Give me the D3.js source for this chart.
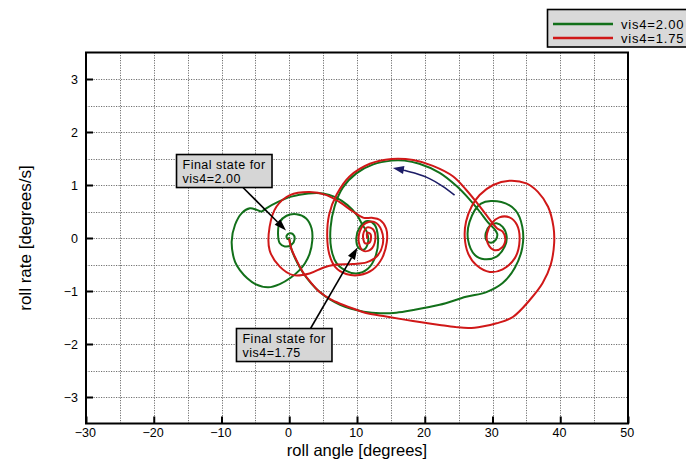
<!DOCTYPE html>
<html>
<head>
<meta charset="utf-8">
<script src="https://cdn.jsdelivr.net/npm/d3@7"></script>
<style>
  body { margin: 0; background: #fff; }
  svg { display: block; font-family: "Liberation Sans", Arial, Helvetica, sans-serif; }
</style>
</head>
<body>
<svg id="chart" width="686" height="459"></svg>
<script>
// Phase portrait: roll angle vs roll rate for two vis4 settings.

const xTicks = [-30, -20, -10, 0, 10, 20, 30, 40, 50];
const yTicks = [-3, -2, -1, 0, 1, 2, 3];
const seriesNames = ['vis4=2.00', 'vis4=1.75'];

// [roll angle, roll rate]
const greenPath = [
  [0.0, 0.0], [0.3, -0.2], [1.0, -0.42], [2.0, -0.65], [3.2, -0.85], [4.5, -1.02],
  [6.0, -1.16], [7.5, -1.26], [9.0, -1.33], [11.0, -1.39], [13.4, -1.42], [15.8, -1.41],
  [18.3, -1.36], [22.2, -1.26], [26.1, -1.11], [29.1, -1.02], [31.5, -0.85], [33.3, -0.56],
  [34.4, -0.18], [34.4, 0.21], [33.4, 0.52], [31.3, 0.68], [28.3, 0.65], [26.6, 0.3],
  [26.4, -0.04], [27.4, -0.32], [28.8, -0.4], [30.6, -0.35], [31.8, -0.16], [32.1, 0.02],
  [31.5, 0.21], [30.6, 0.28], [29.6, 0.23], [29.0, 0.09], [29.1, -0.04], [29.8, -0.09],
  [30.5, -0.03], [30.7, 0.08], [30.2, 0.18], [29.3, 0.3], [28.1, 0.5], [26.6, 0.73],
  [24.7, 0.98], [22.2, 1.23], [19.2, 1.4], [17.0, 1.46], [15.1, 1.46], [12.4, 1.39],
  [9.9, 1.22], [7.9, 0.95], [6.7, 0.6], [6.1, 0.2], [6.2, -0.2], [7.0, -0.48],
  [8.4, -0.62], [9.9, -0.67], [11.6, -0.58], [12.8, -0.32], [13.1, 0.0], [12.6, 0.25],
  [11.5, 0.32], [10.4, 0.2], [9.9, 0.0], [10.2, -0.18], [11.0, -0.22], [11.6, -0.1],
  [11.5, 0.1], [10.8, 0.25], [10.0, 0.43], [8.6, 0.62], [6.8, 0.77], [5.0, 0.84],
  [2.8, 0.84], [0.3, 0.78], [-1.65, 0.68], [-3.4, 0.56], [-4.1, 0.5], [-4.8, 0.53],
  [-5.8, 0.56], [-7.0, 0.47], [-8.0, 0.25], [-8.5, -0.07], [-8.0, -0.45], [-7.2, -0.62],
  [-6.2, -0.76], [-5.0, -0.87], [-3.1, -0.93], [-1.4, -0.87], [0.2, -0.75], [1.4, -0.62],
  [2.3, -0.48], [3.0, -0.3], [3.4, -0.05], [3.3, 0.18], [2.5, 0.37], [1.06, 0.45],
  [-0.4, 0.42], [-1.4, 0.3], [-1.65, 0.06], [-1.4, -0.1], [-0.66, -0.16], [0.3, -0.13],
  [0.8, -0.02], [0.56, 0.07], [0.07, 0.09], [-0.4, 0.04], [-0.26, -0.02], [0.0, 0.0]
];

const redPath = [
  [0.0, -0.03], [0.3, -0.2], [1.0, -0.4], [2.0, -0.64], [3.2, -0.84], [4.5, -1.02],
  [6.0, -1.15], [7.5, -1.24], [9.4, -1.33], [11.5, -1.42], [14.3, -1.48], [17.0, -1.54],
  [19.5, -1.59], [22.2, -1.64], [24.5, -1.68], [26.5, -1.7], [28.5, -1.67], [30.6, -1.61],
  [33.0, -1.49], [35.5, -1.17], [37.4, -0.85], [38.6, -0.5], [39.1, -0.1], [39.0, 0.21],
  [38.2, 0.59], [36.7, 0.87], [35.0, 1.03], [32.5, 1.08], [30.1, 1.0], [28.1, 0.81],
  [26.9, 0.59], [26.1, 0.31], [25.9, 0.02], [26.4, -0.29], [27.6, -0.51], [29.6, -0.64],
  [31.5, -0.59], [33.3, -0.38], [34.0, -0.04], [33.6, 0.25], [32.5, 0.39], [31.0, 0.39],
  [29.9, 0.28], [29.2, 0.09], [29.3, -0.1], [30.3, -0.23], [31.4, -0.18], [31.9, -0.02],
  [31.5, 0.12], [30.7, 0.18], [30.0, 0.28], [29.1, 0.43], [27.6, 0.68], [26.1, 0.91],
  [24.2, 1.16], [21.2, 1.36], [18.3, 1.47], [15.1, 1.49], [11.9, 1.4], [8.9, 1.16],
  [7.0, 0.82], [5.9, 0.45], [5.6, 0.05], [5.9, -0.3], [6.8, -0.55], [8.4, -0.68],
  [10.4, -0.7], [12.3, -0.6], [13.7, -0.38], [14.4, -0.08], [14.3, 0.18], [13.4, 0.34],
  [12.2, 0.38], [11.0, 0.38], [9.4, 0.5], [7.4, 0.68], [5.5, 0.81], [3.0, 0.87],
  [0.1, 0.81], [-1.9, 0.59], [-2.9, 0.21], [-2.9, -0.23], [-1.4, -0.54], [0.56, -0.7],
  [3.0, -0.67], [5.0, -0.56], [6.5, -0.51], [9.4, -0.49], [11.4, -0.46], [12.9, -0.35],
  [13.8, -0.12], [13.6, 0.15], [12.6, 0.3], [11.3, 0.28], [10.4, 0.12], [10.3, -0.1],
  [10.9, -0.24], [12.0, -0.22], [12.7, -0.03], [12.4, 0.16], [11.5, 0.2], [10.9, 0.06],
  [11.2, -0.1], [11.9, -0.08], [12.0, 0.07], [11.5, 0.1], [11.5, 0.0]
];

// direction-of-travel arrow on the upper arc
const directionArrow = [[24.4, 0.81], [22.6, 0.98], [20.7, 1.12], [18.6, 1.22], [16.6, 1.29], [15.3, 1.32]];

// callouts
const noteLabels = [['Final state for', 'vis4=2.00'], ['Final state for', 'vis4=1.75']];
const noteCorner = [[-16.64, 1.575], [-7.79, -1.708]];
const noteTail = [[-6.83, 0.953], [3.14, -1.708]];
const noteTip = [[-0.48, 0.142], [10.07, -0.179]];

const GREEN = '#12701a';
const RED = '#d01818';
const NAVY = '#1c1c66';

const svg = d3.select('#chart');
const plot = { left: 86, right: 628, top: 52.5, bottom: 423.5 };

const x = d3.scaleLinear().domain([-30, 50]).range([plot.left, plot.right]);
const y = d3.scaleLinear().domain([-3.5, 3.5]).range([plot.bottom, plot.top]);

/* ---------------- grid ---------------- */
const grid = svg.append('g').attr('stroke', '#707070').attr('stroke-width', 1)
  .attr('stroke-dasharray', '1.2,1.3');
grid.selectAll('line.gx').data(d3.range(-25, 50, 5)).join('line')
  .attr('x1', (d) => Math.round(x(d)) + 0.5).attr('x2', (d) => Math.round(x(d)) + 0.5)
  .attr('y1', plot.top).attr('y2', plot.bottom);
grid.selectAll('line.gy').data(d3.range(-3, 3.01, 0.5)).join('line')
  .attr('y1', (d) => Math.round(y(d)) + 0.5).attr('y2', (d) => Math.round(y(d)) + 0.5)
  .attr('x1', plot.left).attr('x2', plot.right);

/* ---------------- axes ---------------- */
const xAxis = svg.append('g')
  .attr('transform', `translate(0,${plot.bottom})`)
  .call(d3.axisBottom(x).tickValues(xTicks).tickFormat(d3.format('d'))
    .tickSizeInner(-7).tickSizeOuter(0).tickPadding(5));
const yAxis = svg.append('g')
  .attr('transform', `translate(${plot.left},0)`)
  .call(d3.axisLeft(y).tickValues(yTicks).tickFormat(d3.format('d'))
    .tickSizeInner(-7).tickSizeOuter(0).tickPadding(8));

for (const ax of [xAxis, yAxis]) {
  ax.select('.domain').remove();
  ax.selectAll('.tick line').attr('stroke', '#000').attr('stroke-width', 2);
  ax.selectAll('.tick text').attr('fill', '#000').style('font-size', '12.5px')
    .style('font-family', '"Liberation Sans", Arial, sans-serif');
}
xAxis.selectAll('.tick text').attr('dx', '-0.1em');

svg.append('rect')
  .attr('x', plot.left).attr('y', plot.top)
  .attr('width', plot.right - plot.left).attr('height', plot.bottom - plot.top)
  .attr('fill', 'none').attr('stroke', '#000').attr('stroke-width', 2);

svg.append('text')
  .attr('x', (plot.left + plot.right) / 2).attr('y', 456)
  .attr('text-anchor', 'middle').style('font-size', '16.5px')
  .text('roll angle [degrees]');
svg.append('text')
  .attr('transform', `translate(31,${(plot.top + plot.bottom) / 2}) rotate(-90)`)
  .attr('text-anchor', 'middle').style('font-size', '17px')
  .text('roll rate [degrees/s]');

/* ---------------- trajectories ---------------- */
const line = d3.line()
  .x((d) => x(d[0]))
  .y((d) => y(d[1]))
  .curve(d3.curveCatmullRom.alpha(0.5));

const lines = svg.append('g').attr('fill', 'none').attr('stroke-width', 2)
  .attr('stroke-linejoin', 'round').attr('stroke-linecap', 'round');
lines.append('path').datum(greenPath).attr('d', line).attr('stroke', GREEN);
lines.append('path').datum(redPath).attr('d', line).attr('stroke', RED);

/* ---------------- arrows ---------------- */
function arrowHead(tailPx, tipPx, len, half) {
  const a = Math.atan2(tipPx[1] - tailPx[1], tipPx[0] - tailPx[0]);
  const bx = tipPx[0] - len * Math.cos(a), by = tipPx[1] - len * Math.sin(a);
  const px = -Math.sin(a) * half, py = Math.cos(a) * half;
  return { base: [bx, by], pts: [tipPx, [bx + px, by + py], [bx - px, by - py]] };
}

// direction arrow
{
  const pts = directionArrow.map((d) => [x(d[0]), y(d[1])]);
  const tip = pts[pts.length - 1];
  const head = arrowHead(pts[pts.length - 2], tip, 11, 4);
  const body = pts.slice(0, -1).concat([head.base]);
  svg.append('path')
    .attr('d', d3.line().curve(d3.curveCatmullRom.alpha(0.5))(body))
    .attr('fill', 'none').attr('stroke', NAVY).attr('stroke-width', 1.6);
  svg.append('polygon').attr('points', head.pts.map((p) => p.join(',')).join(' '))
    .attr('fill', NAVY);
}

// callouts
noteLabels.forEach((labels, i) => {
  const g = svg.append('g');
  const tail = [x(noteTail[i][0]), y(noteTail[i][1])];
  const tip = [x(noteTip[i][0]), y(noteTip[i][1])];
  const head = arrowHead(tail, tip, 12, 4);
  g.append('line')
    .attr('x1', tail[0]).attr('y1', tail[1])
    .attr('x2', head.base[0]).attr('y2', head.base[1])
    .attr('stroke', '#000').attr('stroke-width', 1.6);
  g.append('polygon').attr('points', head.pts.map((p) => p.join(',')).join(' ')).attr('fill', '#000');

  const bx = x(noteCorner[i][0]), by = y(noteCorner[i][1]);
  g.append('rect')
    .attr('x', bx).attr('y', by).attr('width', 95.5).attr('height', 33)
    .attr('fill', '#d6d6d6').attr('stroke', '#000').attr('stroke-width', 1.6);
  g.selectAll('text').data(labels).join('text')
    .attr('x', bx + 6).attr('y', (d, j) => by + 14 + j * 14)
    .style('font-size', '12.5px').style('letter-spacing', '0.5px')
    .text((d) => d);
});

/* ---------------- legend ---------------- */
const legend = svg.append('g');
legend.append('rect')
  .attr('x', 547.5).attr('y', 9.5).attr('width', 150).attr('height', 37.5)
  .attr('fill', '#d9d9d9').attr('stroke', '#000').attr('stroke-width', 1.6);
const legendRows = legend.selectAll('g.row').data(seriesNames).join('g')
  .attr('transform', (d, i) => `translate(0,${24 + i * 14})`);
legendRows.append('line')
  .attr('x1', 553).attr('x2', 613).attr('y1', 0).attr('y2', 0)
  .attr('stroke-width', 2.5)
  .attr('stroke', (d, i) => (i === 0 ? GREEN : RED));
legendRows.append('text')
  .attr('x', 621).attr('y', 4.5)
  .style('font-size', '13px').style('letter-spacing', '0.8px')
  .text((d) => d);
</script>
</body>
</html>
